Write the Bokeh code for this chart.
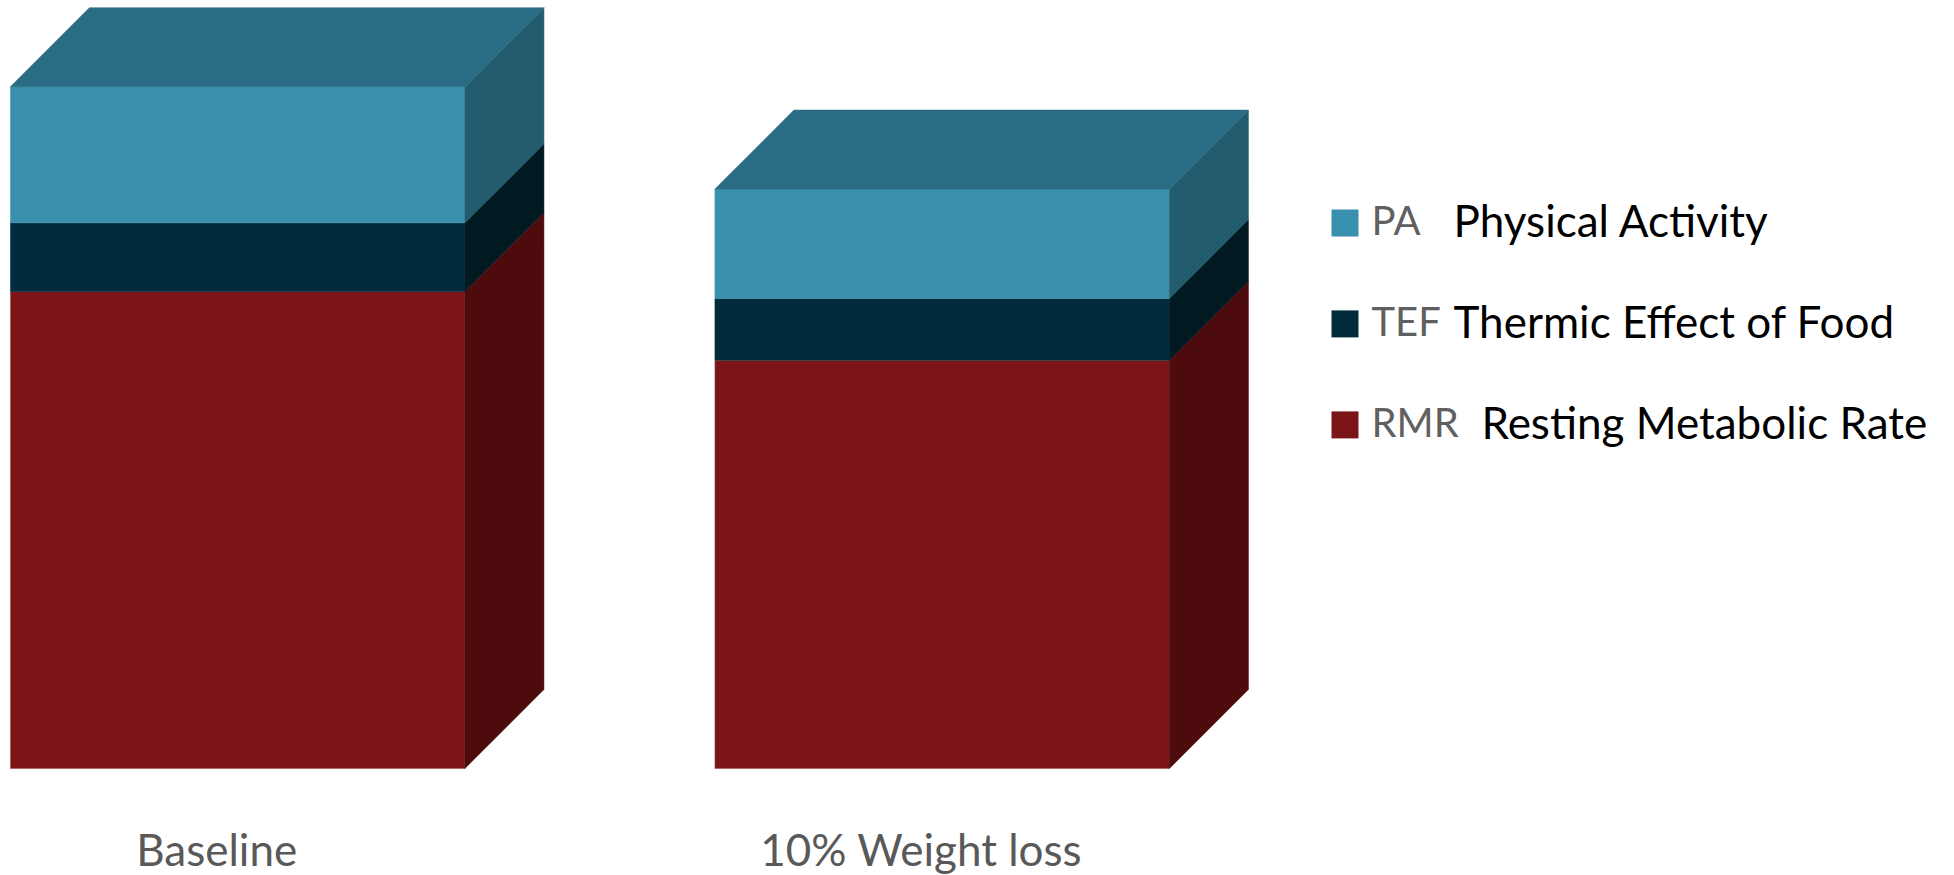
from bokeh.plotting import figure
from bokeh.models import Range1d, ColumnDataSource
from bokeh.core.properties import value
from bokeh.embed import file_html
from bokeh.resources import INLINE

# Daily energy expenditure components (kcal/day)
categories = ["Baseline", "10% Weight loss"]
rmr = [1700, 1455]   # Resting Metabolic Rate
tef = [245, 220]     # Thermic Effect of Food
pa = [485, 390]      # Physical Activity

components = ["RMR", "TEF", "PA"]  # stacking order, bottom to top
component_values = {"RMR": rmr, "TEF": tef, "PA": pa}
legend_codes = ["PA", "TEF", "RMR"]
legend_names = ["Physical Activity", "Thermic Effect of Food", "Resting Metabolic Rate"]

# Face colours: front, side (darker), top
front = {"PA": "#3890AE", "TEF": "#022B3B", "RMR": "#7A1416"}
side = {"PA": "#235C6E", "TEF": "#011A22", "RMR": "#4E0B0E"}
top_face = {"PA": "#2A6C84", "TEF": "#02222E", "RMR": "#621012"}
edge = {"PA": "#4A9CB8", "TEF": "#0A3A4C", "RMR": "#A05055"}

# Layout in screen pixels
W, H = 1954, 875
STEP_PX = 704.5          # distance between bar centres
FIRST_CENTER_PX = 237.2  # centre of the first bar from the left edge
BASE_PX = 768.0          # zero line, measured from the top
PX_PER_UNIT = 0.2806     # vertical pixels per kcal
BAR_PX = 454.5           # front face width
DEPTH_PX = 79.0          # 45-degree extrusion depth

x0 = -FIRST_CENTER_PX / STEP_PX
y0 = -(H - BASE_PX) / PX_PER_UNIT


def px_x(px):
    return x0 + px / STEP_PX


def px_y(py):
    return y0 + (H - py) / PX_PER_UNIT


half_w = BAR_PX / STEP_PX / 2
dx = DEPTH_PX / STEP_PX
dy = DEPTH_PX / PX_PER_UNIT

p = figure(width=W, height=H, output_backend="svg", toolbar_location=None,
           x_range=Range1d(x0, x0 + W / STEP_PX),
           y_range=Range1d(y0, y0 + H / PX_PER_UNIT),
           min_border=0, border_fill_color="white", background_fill_color="white")
p.axis.visible = False
p.grid.visible = False
p.outline_line_color = None

for i, cat in enumerate(categories):
    xl, xr = i - half_w, i + half_w
    base = 0.0
    for comp in components:
        v = component_values[comp][i]
        lo, hi = base, base + v
        # front face
        p.quad(left=[xl], right=[xr], bottom=[lo], top=[hi],
               fill_color=front[comp], line_color=edge[comp], line_width=1, line_alpha=0.6)
        # right side face
        p.patch(x=[xr, xr + dx, xr + dx, xr], y=[lo, lo + dy, hi + dy, hi],
                fill_color=side[comp], line_color=side[comp], line_width=0.5)
        base = hi
    top_comp = components[-1]
    p.patch(x=[xl, xl + dx, xr + dx, xr], y=[base, base + dy, base + dy, base],
            fill_color=top_face[top_comp], line_color=top_face[top_comp], line_width=0.5)

# Category labels under the bars (vertically centred on the cap height)
label_src = ColumnDataSource(dict(
    x=[i - 21 / STEP_PX for i in range(len(categories))],
    y=[px_y(848.0)] * len(categories),
    text=categories))
p.text(x="x", y="y", text="text", source=label_src, text_align="center",
       text_baseline="middle", text_font=value("Lato"), text_font_size="44px",
       text_color="#595959")

# Legend rows, centred on the swatches
row_center_px = [222.4, 323.4, 424.4]
desc_left_px = [1453, 1453, 1481]
for code, name, yc, dl in zip(legend_codes, legend_names, row_center_px, desc_left_px):
    p.scatter(x=[px_x(1344.5)], y=[px_y(yc)], marker="square", size=27,
              fill_color=front[code], line_color=None)
    p.text(x=[px_x(1371)], y=[px_y(yc - 2.5)], text=[code], text_align="left",
           text_baseline="middle", text_font=value("Lato"), text_font_size="40px",
           text_color="#606060")
    p.text(x=[px_x(dl)], y=[px_y(yc - 2.5)], text=[name], text_align="left",
           text_baseline="middle", text_font=value("Lato"), text_font_size="44px",
           text_color="#000000")

open("out.html", "w").write(file_html(p, INLINE))
